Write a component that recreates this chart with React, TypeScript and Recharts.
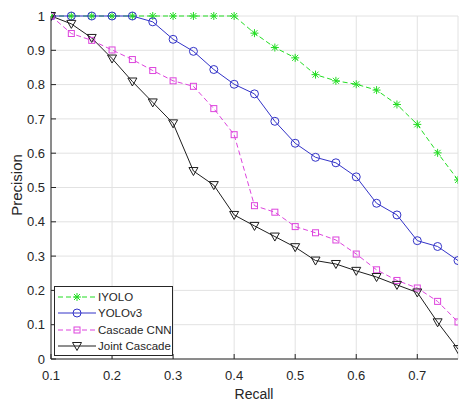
import React from 'react';
import { LineChart, Line, XAxis, YAxis, CartesianGrid } from 'recharts';

const recall = [0.1, 0.1333, 0.1667, 0.2, 0.2333, 0.2667, 0.3, 0.3333, 0.3667, 0.4, 0.4333, 0.4667, 0.5, 0.5333, 0.5667, 0.6, 0.6333, 0.6667, 0.7, 0.7333, 0.7667];
const iyolo = [1, 1, 1, 1, 1, 1, 1, 1, 1, 1, 0.95, 0.908, 0.878, 0.829, 0.811, 0.801, 0.784, 0.742, 0.684, 0.601, 0.522];
const yolov3 = [1, 1, 1, 1, 1, 0.983, 0.932, 0.897, 0.844, 0.801, 0.773, 0.693, 0.629, 0.588, 0.572, 0.531, 0.454, 0.42, 0.345, 0.328, 0.287];
const cascadeCnn = [1, 0.949, 0.929, 0.901, 0.873, 0.841, 0.811, 0.795, 0.73, 0.654, 0.447, 0.428, 0.386, 0.368, 0.347, 0.306, 0.26, 0.229, 0.207, 0.168, 0.108];
const jointCascade = [1, 0.977, 0.936, 0.876, 0.809, 0.748, 0.687, 0.548, 0.507, 0.42, 0.388, 0.357, 0.326, 0.287, 0.277, 0.257, 0.239, 0.216, 0.194, 0.107, 0.029];

const xTicks = [0.1, 0.2, 0.3, 0.4, 0.5, 0.6, 0.7];
const yTicks = [0, 0.1, 0.2, 0.3, 0.4, 0.5, 0.6, 0.7, 0.8, 0.9, 1];
const seriesNames = ['IYOLO', 'YOLOv3', 'Cascade CNN', 'Joint Cascade'];
const xTitle = 'Recall';
const yTitle = 'Precision';

const data = recall.map((r, i) => ({
  recall: r,
  iyolo: iyolo[i],
  yolov3: yolov3[i],
  cascade: cascadeCnn[i],
  joint: jointCascade[i],
}));

const GREEN = '#22dd22';
const BLUE = '#3333c8';
const MAGENTA = '#dd44dd';
const BLACK = '#1e1e1e';
const AXIS = '#262626';
const FONT = '"Liberation Sans", Arial, Helvetica, sans-serif';

const starShape = (cx: number, cy: number, c: string, k?: any) => (
  <g key={k} stroke={c} strokeWidth={1} fill="none">
    <line x1={cx - 4} y1={cy} x2={cx + 4} y2={cy} />
    <line x1={cx} y1={cy - 4} x2={cx} y2={cy + 4} />
    <line x1={cx - 3} y1={cy - 3} x2={cx + 3} y2={cy + 3} />
    <line x1={cx - 3} y1={cy + 3} x2={cx + 3} y2={cy - 3} />
  </g>
);
const circleShape = (cx: number, cy: number, c: string, k?: any) => (
  <circle key={k} cx={cx} cy={cy} r={4} stroke={c} strokeWidth={1} fill="none" />
);
const squareShape = (cx: number, cy: number, c: string, k?: any) => (
  <rect key={k} x={cx - 3} y={cy - 3} width={6} height={6} stroke={c} strokeWidth={1} fill="none" />
);
const triShape = (cx: number, cy: number, c: string, k?: any) => (
  <polygon key={k} points={`${cx - 4.5},${cy - 3.5} ${cx + 4.5},${cy - 3.5} ${cx},${cy + 4.5}`} stroke={c} strokeWidth={1} fill="none" />
);

const mkDot = (fn: any, c: string) => (p: any) => fn(p.cx, p.cy, c, `${p.dataKey}-${p.index}`);

const legendItems = [
  { name: seriesNames[0], color: GREEN, dash: '5 3', shape: starShape },
  { name: seriesNames[1], color: BLUE, dash: undefined, shape: circleShape },
  { name: seriesNames[2], color: MAGENTA, dash: '5 3', shape: squareShape },
  { name: seriesNames[3], color: BLACK, dash: undefined, shape: triShape },
];

const LegendBox = () => (
  <div style={{ position: 'absolute', left: 54, top: 286, width: 119, height: 70, border: `1px solid ${AXIS}`, background: '#fff', boxSizing: 'border-box' }}>
    {legendItems.map((it, i) => (
      <div key={it.name} style={{ position: 'absolute', left: 0, top: 2 + i * 16.4, height: 16, width: 116 }}>
        <svg width={42} height={16} style={{ position: 'absolute', left: 0, top: 0 }}>
          <line x1={3} y1={8} x2={41} y2={8} stroke={it.color} strokeWidth={1} strokeDasharray={it.dash} />
          {it.shape(22, 8, it.color)}
        </svg>
        <span style={{ position: 'absolute', left: 43, top: 0, lineHeight: '16px', fontSize: 11.5, fontFamily: FONT, color: '#262626', whiteSpace: 'nowrap' }}>{it.name}</span>
      </div>
    ))}
  </div>
);

const Titles = () => (
  <svg width={459} height={401} style={{ position: 'absolute', left: 0, top: 0, pointerEvents: 'none' }}>
    <text x={254} y={399} textAnchor="middle" fontSize={14} fill="#262626" fontFamily={FONT}>{xTitle}</text>
    <text x={22} y={185} transform="rotate(-90 22 185)" textAnchor="middle" fontSize={15} fill="#262626" fontFamily={FONT}>{yTitle}</text>
  </svg>
);

const fmtY = (v: number) => (v === 0 ? '0' : v === 1 ? '1' : v.toFixed(1));
const fmtX = (v: number) => v.toFixed(1);
const tickStyle = { fontSize: 13, fill: '#262626', fontFamily: FONT };

export default function App() {
  return (
    <div style={{ position: 'absolute', left: 0, top: 0, width: 459, height: 401, background: '#fff', overflow: 'hidden' }}>
      <LineChart width={459} height={401} data={data} margin={{ top: 16, right: 1, bottom: 0, left: 0 }}>
        <CartesianGrid stroke="#e2e2e2" strokeWidth={1} />
        <XAxis
          dataKey="recall"
          type="number"
          domain={[0.1, 0.7667]}
          ticks={xTicks}
          allowDataOverflow
          height={42}
          tickSize={-5}
          tickMargin={17}
          tickFormatter={fmtX}
          tick={tickStyle}
          stroke={AXIS}
          tickLine={{ stroke: AXIS }}
          axisLine={{ stroke: AXIS }}
        />
        <XAxis
          xAxisId="top"
          orientation="top"
          dataKey="recall"
          type="number"
          domain={[0.1, 0.7667]}
          ticks={xTicks}
          allowDataOverflow
          height={0}
          tickSize={-5}
          tickFormatter={() => ''}
          stroke={AXIS}
        />
        <YAxis
          type="number"
          domain={[0, 1]}
          ticks={yTicks}
          width={51}
          tickSize={-5}
          tickMargin={11}
          tickFormatter={fmtY}
          tick={tickStyle}
          stroke={AXIS}
        />
        <YAxis
          yAxisId="right"
          orientation="right"
          type="number"
          domain={[0, 1]}
          ticks={yTicks}
          width={0}
          tickSize={-5}
          tickFormatter={() => ''}
          stroke={AXIS}
        />
        <Line dataKey="iyolo" name={seriesNames[0]} stroke={GREEN} strokeWidth={1} strokeDasharray="5 3" dot={mkDot(starShape, GREEN)} isAnimationActive={false} />
        <Line dataKey="yolov3" name={seriesNames[1]} stroke={BLUE} strokeWidth={1} dot={mkDot(circleShape, BLUE)} isAnimationActive={false} />
        <Line dataKey="cascade" name={seriesNames[2]} stroke={MAGENTA} strokeWidth={1} strokeDasharray="5 3" dot={mkDot(squareShape, MAGENTA)} isAnimationActive={false} />
        <Line dataKey="joint" name={seriesNames[3]} stroke={BLACK} strokeWidth={1} dot={mkDot(triShape, BLACK)} isAnimationActive={false} />
      </LineChart>
      <Titles />
      <LegendBox />
    </div>
  );
}
